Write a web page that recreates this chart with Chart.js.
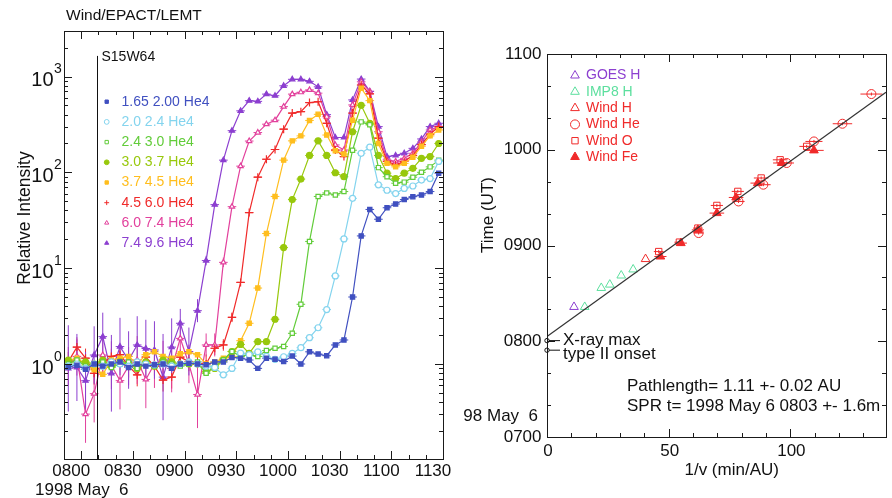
<!DOCTYPE html>
<html>
<head>
<meta charset="utf-8">
<script src="https://cdn.jsdelivr.net/npm/chart.js@4.4.0/dist/chart.umd.min.js"></script>
<style>
  html, body { margin: 0; padding: 0; background: #fff; width: 892px; height: 498px; overflow: hidden; }
  canvas { position: absolute; top: 0; }
  #left { left: 0; }
  #right { left: 440px; }
</style>
</head>
<body>
<canvas id="left" width="470" height="498"></canvas>
<canvas id="right" width="452" height="498"></canvas>
<script>
const FONT = '"Liberation Sans", Arial, Helvetica, sans-serif';

// ---- left panel: Wind/EPACT/LEMT He4 intensities, 5-min bins (minutes after 0800 UT)
const binTimes = [-7.5,-2.5,2.5,7.5,12.5,17.5,22.5,27.5,32.5,37.5,42.5,47.5,52.5,57.5,62.5,67.5,72.5,77.5,82.5,87.5,
  92.5,97.5,102.5,107.5,112.5,117.5,122.5,127.5,132.5,137.5,142.5,147.5,152.5,157.5,162.5,167.5,172.5,177.5,182.5,187.5,
  192.5,197.5,202.5,207.5];
const bandLabels = ['1.65 2.00 He4','2.0 2.4 He4','2.4 3.0 He4','3.0 3.7 He4','3.7 4.5 He4','4.5 6.0 He4','6.0 7.4 He4','7.4 9.6 He4'];

const he165 = [0.93,0.97,0.88,1.0,0.95,1.0,1.05,0.92,1.0,0.95,0.98,1.0,0.9,1.0,1.02,1.0,0.98,1.05,1.05,1.17,
  1.15,1.1,0.9,1.15,1.12,1.06,1.21,1.0,1.34,1.27,1.22,1.58,1.78,5.0,21.7,41,32.4,42.7,46.7,52,55.7,58,63,98];
const he20 = [0.95,1.0,0.9,1.0,0.95,1.05,1.0,0.95,1.05,1.0,0.98,1.0,0.95,1.0,1.05,1.0,0.95,0.92,0.77,0.9,
  1.3,1.25,1.34,1.2,1.12,1.19,1.29,1.48,1.88,2.39,3.7,8.3,20.2,53.5,158,183,74,65,60,68,72,83,86,130];
const he24 = [1.0,1.1,0.95,1.0,1.05,0.92,1.0,1.05,0.9,1.0,0.95,1.05,1.0,0.95,1.0,1.05,0.8,0.95,1.1,1.35,
  1.2,1.25,1.2,1.38,1.46,1.52,2.09,4.2,19,56,61,58,63,170,336,313,112,90,77,79,89,100,114,134];
const he30 = [1.1,1.05,1.05,1.0,1.1,0.95,1.05,1.0,0.9,1.05,0.95,1.1,1.05,1.0,1.0,1.0,0.83,0.9,1.1,1.35,
  1.6,1.29,1.71,1.71,2.93,16.4,52,85,150,213,150,99,90,265,500,325,150,98,86,98,110,140,146,200];
const he37 = [1.08,1.15,1.0,0.87,0.78,1.1,1.15,1.2,1.0,1.25,1.34,1.2,1.15,1.28,1.34,1.25,1.0,1.05,1.15,1.2,
  1.75,2.66,6.2,23,56,134,213,240,348,403,245,168,155,350,755,560,200,124,114,124,144,187,240,277];
const he45 = [1.06,1.5,1.15,0.8,1.0,1.2,1.25,0.95,0.77,1.18,0.95,0.68,0.73,1.18,1.06,1.0,1.0,1.46,1.58,3.07,
  7.1,38,89,137,173,282,415,430,535,545,325,171,146,415,815,660,227,130,120,130,150,195,250,300];
const he60 = [0.95,1.2,0.30,0.49,1.24,0.97,0.67,0.95,1.1,0.69,1.0,1.1,0.9,1.85,1.0,0.48,1.58,1.58,11.5,43.8,
  116,212,260,318,350,485,655,685,725,670,380,193,171,505,880,700,265,135,130,140,158,208,277,300];
const he74 = [0.90,0.92,0.67,1.24,1.93,0.80,1.52,1.1,1.58,1.45,1.4,0.73,1.5,2.66,1.35,3.6,12,46,134,272,
  438,560,550,655,630,800,935,935,890,780,400,231,231,570,940,700,300,146,150,158,178,223,300,325];

// vertical error bars (half-length in decades) for the early, noisy bins
const errHe45 = [0.1,0.08,0.1,0.12,0.1,0.08,0.1,0.12,0.12,0.1,0.1,0.12,0.12,0.08,0.1,0.1,0.1,0.07,0.06,0.05];
const errHe60 = [0.2,0.2,0.3,0.3,0.2,0.25,0.3,0.2,0.25,0.3,0.25,0.2,0.25,0.15,0.2,0.35,0.12,0.12,0.05];
const errHe74 = [0.45,0.35,0.3,0.3,0.25,0.4,0.3,0.3,0.3,0.3,0.3,0.45,0.3,0.15,0.25,0.12,0.05];

const leftTickMinutes = [0,30,60,90,120,150,180,210];
const leftTickLabels = ['0800','0830','0900','0930','1000','1030','1100','1130'];
const leftDecades = [1,10,100,1000];
const leftDecadeExp = ['0','1','2','3'];
const flareMinute = 9, flareTop = 1640, flareLabel = 'S15W64';

// ---- right panel: onset time vs 1/v
const goesX = [11.1], goesT = [501.5];
const imp8X = [15.5,22.3,25.8,30.5,35.4], imp8T = [501.5,513.4,515.5,521.2,525.0];
const windHX = [40.5], windHT = [531.5];
const windHeX = [62.3,78.7,88.9,98.5,109.7,121.4,133.3];
const windHeT = [547.8,567.6,578.1,591.7,605.2,616.3,634.9];
const windHeErr = [2,2.5,3,3,3.5,4,4.5];
const windOX = [45.9,54.4,62.0,69.8,78.4,88.0,95.8,106.7];
const windOT = [536.2,542.1,550.9,565.1,573.9,582.3,593.7,602.1];
const windOErr = [2,2,2,2.5,2.5,3,3,3];
const windFeX = [46.6,55.0,62.0,69.8,77.7,86.6,96.4,109.7];
const windFeT = [533.1,541.5,549.8,560.3,570.1,579.1,591.7,599.6];
const windFeErr = [2.5,2.5,2.5,3,3,3,3.5,4];
const fitX = [0,139.3], fitT = [483,636];
const eventT = [480.4,474.4], eventLabels = ['X-ray max','type II onset'];
const rightYTicks = [420,480,540,600,660], rightYLabels = ['0700','0800','0900','1000','1100'];
const rightXTicks = [0,50,100], rightXLabels = ['0','50','100'];

// styles
const bandColors = ['#4050c0','#84d4ee','#62cc3a','#98c80c','#ffbe1e','#f02a2a','#e2409c','#8c3fd0'];
const bandMarkers = [['rect',true],['circle',false],['rect',false],['circle',true],['rect',true],['cross',false],['triangle',false],['triangle',true]];
const GOES_C = '#8c3fd0', IMP8_C = '#5cdf9e', WIND_C = '#f02a2a';

function txt(ctx, s, x, y, size, align, color) {
  ctx.font = size + 'px ' + FONT;
  ctx.textAlign = align || 'left';
  ctx.textBaseline = 'middle';
  ctx.fillStyle = color || '#111';
  ctx.fillText(s, x, y);
}

function marker(ctx, style, filled, color, r, x, y) {
  ctx.save();
  ctx.strokeStyle = color; ctx.fillStyle = filled ? color : 'rgba(255,255,255,0)';
  ctx.lineWidth = 1;
  Chart.helpers.drawPoint(ctx, {pointStyle: style, radius: r, borderWidth: 1, rotation: 0}, x, y);
  ctx.restore();
}

const framePlugin = {
  id: 'frame',
  afterDatasetsDraw(chart, args, o) {
    const {ctx, chartArea: a, scales: {x, y}} = chart;
    ctx.save();
    ctx.strokeStyle = '#1a1a1a';
    ctx.lineWidth = 1;
    const r = v => Math.round(v) + 0.5;
    ctx.strokeRect(r(a.left), r(a.top), Math.round(a.right - a.left), Math.round(a.bottom - a.top));
    const tick = (vals, len, horiz) => vals.forEach(v => {
      ctx.beginPath();
      if (horiz) {
        const px = r(x.getPixelForValue(v));
        if (px < a.left - 1 || px > a.right + 1) return;
        ctx.moveTo(px, a.bottom); ctx.lineTo(px, a.bottom - len);
        ctx.moveTo(px, a.top); ctx.lineTo(px, a.top + len);
      } else {
        const py = r(y.getPixelForValue(v));
        if (py < a.top - 1 || py > a.bottom + 1) return;
        ctx.moveTo(a.left, py); ctx.lineTo(a.left + len, py);
        ctx.moveTo(a.right, py); ctx.lineTo(a.right - len, py);
      }
      ctx.stroke();
    });
    tick(o.xMinor, 4, true); tick(o.xMajor, 8, true);
    tick(o.yMinor, 4, false); tick(o.yMajor, 8, false);
    ctx.restore();
  }
};

// ---------------- left chart
const leftSeries = [he165, he20, he24, he30, he37, he45, he60, he74];
const leftErr = [[], [], [], [], [], errHe45, errHe60, errHe74];

const leftBars = {
  id: 'leftBars',
  beforeDatasetsDraw(chart) {
    const {ctx, chartArea: a, scales: {x, y}} = chart;
    ctx.save();
    ctx.beginPath(); ctx.rect(a.left, a.top, a.right - a.left, a.bottom - a.top); ctx.clip();
    ctx.lineWidth = 1;
    leftSeries.forEach((vals, i) => {
      ctx.strokeStyle = bandColors[i];
      vals.forEach((v, k) => {
        const t = binTimes[k], py = y.getPixelForValue(v);
        ctx.beginPath();
        ctx.moveTo(x.getPixelForValue(t - 2.5), py); ctx.lineTo(x.getPixelForValue(t + 2.5), py);
        const e = leftErr[i][k];
        if (e) {
          const px = x.getPixelForValue(t);
          ctx.moveTo(px, y.getPixelForValue(v * Math.pow(10, e)));
          ctx.lineTo(px, y.getPixelForValue(v / Math.pow(10, e)));
        }
        ctx.stroke();
      });
    });
    ctx.restore();
  }
};

const leftText = {
  id: 'leftText',
  afterDraw(chart) {
    const {ctx, chartArea: a, scales: {x, y}} = chart;
    ctx.save();
    txt(ctx, 'Wind/EPACT/LEMT', 66, 16, 15.5);
    // flare marker
    const fx = Math.round(x.getPixelForValue(flareMinute)) + 0.5;
    ctx.strokeStyle = '#111'; ctx.lineWidth = 1;
    ctx.beginPath(); ctx.moveTo(fx, y.getPixelForValue(flareTop)); ctx.lineTo(fx, a.bottom); ctx.stroke();
    txt(ctx, flareLabel, fx + 4, 57, 14);
    // legend
    bandLabels.forEach((lab, i) => {
      const ly = 101.7 + 20.2 * i;
      marker(ctx, bandMarkers[i][0], bandMarkers[i][1], bandColors[i], 2.4, 106.7, ly);
      txt(ctx, lab, 121.5, ly, 14, 'left', bandColors[i]);
    });
    // axes labels
    leftDecades.forEach((v, i) => {
      const py = y.getPixelForValue(v);
      txt(ctx, '10', 53.5, py + 4, 20, 'right');
      txt(ctx, leftDecadeExp[i], 54, py - 7, 14);
    });
    leftTickMinutes.forEach((m, i) => txt(ctx, leftTickLabels[i], x.getPixelForValue(m) - 10, 471.7, 17, 'center'));
    txt(ctx, '1998 May  6', 35, 490, 17);
    ctx.translate(25, 218); ctx.rotate(-Math.PI / 2);
    txt(ctx, 'Relative Intensity', 0, 0, 17.5, 'center');
    ctx.restore();
  }
};

const leftMinorX = [], leftMinorY = [];
for (let m = -10; m <= 210; m += 10) leftMinorX.push(m);
[0.1, 1, 10, 100, 1000].forEach(d => { for (let j = 2; j <= 9; j++) leftMinorY.push(d * j); });

new Chart(document.getElementById('left'), {
  type: 'line',
  data: {
    datasets: bandLabels.map((lab, i) => ({
      label: lab,
      data: binTimes.map((t, k) => ({x: t, y: leftSeries[i][k]})),
      borderColor: bandColors[i],
      backgroundColor: bandMarkers[i][1] ? bandColors[i] : '#fff',
      pointBorderColor: bandColors[i],
      pointStyle: bandMarkers[i][0],
      pointRadius: bandMarkers[i][0] === 'cross' ? 4 : 3,
      pointBorderWidth: 1.2,
      borderWidth: 1.2,
      fill: false,
      tension: 0
    }))
  },
  options: {
    responsive: false, animation: false, events: [],
    layout: {padding: {left: 64, top: 31, right: 27, bottom: 39}},
    scales: {
      x: {type: 'linear', display: false, min: -10, max: 210},
      y: {type: 'logarithmic', display: false, min: 0.102, max: 2984}
    },
    plugins: {
      legend: {display: false}, tooltip: {enabled: false},
      frame: {xMinor: leftMinorX, xMajor: leftTickMinutes, yMinor: leftMinorY, yMajor: leftDecades}
    }
  },
  plugins: [leftBars, framePlugin, leftText]
});

// ---------------- right chart
const OX = 440;
const pts = (xs, ts) => xs.map((v, i) => ({x: v, y: ts[i]}));
const windSets = [
  {label: 'GOES H', data: pts(goesX, goesT), color: GOES_C, style: 'triangle', filled: false},
  {label: 'IMP8 H', data: pts(imp8X, imp8T), color: IMP8_C, style: 'triangle', filled: false},
  {label: 'Wind H', data: pts(windHX, windHT), color: WIND_C, style: 'triangle', filled: false},
  {label: 'Wind He', data: pts(windHeX, windHeT), color: WIND_C, style: 'circle', filled: false, err: windHeErr},
  {label: 'Wind O', data: pts(windOX, windOT), color: WIND_C, style: 'rect', filled: false, err: windOErr},
  {label: 'Wind Fe', data: pts(windFeX, windFeT), color: WIND_C, style: 'triangle', filled: true, err: windFeErr}
];

const rightBars = {
  id: 'rightBars',
  beforeDatasetsDraw(chart) {
    const {ctx, scales: {x, y}} = chart;
    ctx.save(); ctx.lineWidth = 1;
    windSets.forEach(s => {
      if (!s.err) return;
      ctx.strokeStyle = s.color;
      s.data.forEach((p, i) => {
        const py = y.getPixelForValue(p.y), px = x.getPixelForValue(p.x);
        ctx.beginPath();
        ctx.moveTo(x.getPixelForValue(p.x - s.err[i]), py); ctx.lineTo(x.getPixelForValue(p.x + s.err[i]), py);
        ctx.moveTo(px, py - 1.5); ctx.lineTo(px, py + 1.5);
        ctx.stroke();
      });
    });
    ctx.restore();
  }
};

const rightText = {
  id: 'rightText',
  afterDraw(chart) {
    const {ctx, chartArea: a, scales: {x, y}} = chart;
    ctx.save();
    windSets.forEach((s, i) => {
      const ly = 75.5 + 16.3 * i;
      marker(ctx, s.style, s.filled, s.color, s.style === 'triangle' ? 5 : 4.5, 575 - OX, ly);
      txt(ctx, s.label, 586 - OX, ly, 14, 'left', s.color);
    });
    rightYTicks.forEach((v, i) => txt(ctx, rightYLabels[i], 541.5 - OX, y.getPixelForValue(v), 17, 'right'));
    rightXTicks.forEach((v, i) => txt(ctx, rightXLabels[i], x.getPixelForValue(v) + 1, 451.7, 17, 'center'));
    txt(ctx, '98 May  6', 538 - OX, 416.7, 17, 'right');
    txt(ctx, '1/v (min/AU)', 731.7 - OX, 470, 17, 'center');
    txt(ctx, 'Pathlength= 1.11 +- 0.02 AU', 627 - OX, 386.7, 17);
    txt(ctx, 'SPR t= 1998 May 6 0803 +- 1.6m', 627 - OX, 406.7, 17);
    // event annotations at 1/v = 0
    ctx.strokeStyle = '#111'; ctx.lineWidth = 1;
    const ex = x.getPixelForValue(0);
    eventT.forEach((t, i) => {
      const py = y.getPixelForValue(t);
      ctx.beginPath(); ctx.moveTo(ex + 2, py); ctx.lineTo(ex + 13, py); ctx.stroke();
      txt(ctx, eventLabels[i], ex + 16, py + (i === 0 ? 0 : 4), 17);
    });
    ctx.translate(488 - OX, 215); ctx.rotate(-Math.PI / 2);
    txt(ctx, 'Time (UT)', 0, 0, 17, 'center');
    ctx.restore();
  }
};

const rightMinorX = [], rightMinorY = [];
for (let v = 0; v <= 130; v += 10) rightMinorX.push(v);
for (let v = 420; v <= 660; v += 20) rightMinorY.push(v);

new Chart(document.getElementById('right'), {
  type: 'scatter',
  data: {
    datasets: [
      {data: pts(fitX, fitT), showLine: true, borderColor: '#333', borderWidth: 1.2, pointRadius: 0},
      ...windSets.map(s => ({
        label: s.label, data: s.data,
        pointStyle: s.style, pointRadius: s.style === 'triangle' ? 5 : 4.5,
        borderColor: s.color, pointBorderColor: s.color,
        backgroundColor: s.filled ? s.color : 'rgba(255,255,255,0)',
        pointBorderWidth: 1
      })),
      {data: eventT.map(t => ({x: 0, y: t})), pointStyle: 'circle', pointRadius: 2.2,
       borderColor: '#111', backgroundColor: '#fff', pointBorderWidth: 1, clip: false}
    ]
  },
  options: {
    responsive: false, animation: false, events: [],
    layout: {padding: {left: 107, top: 54, right: 4, bottom: 61}},
    scales: {
      x: {type: 'linear', display: false, min: 0, max: 139.3},
      y: {type: 'linear', display: false, min: 420, max: 660}
    },
    plugins: {
      legend: {display: false}, tooltip: {enabled: false},
      frame: {xMinor: rightMinorX, xMajor: rightXTicks, yMinor: rightMinorY, yMajor: rightYTicks}
    }
  },
  plugins: [rightBars, framePlugin, rightText]
});
</script>
</body>
</html>
